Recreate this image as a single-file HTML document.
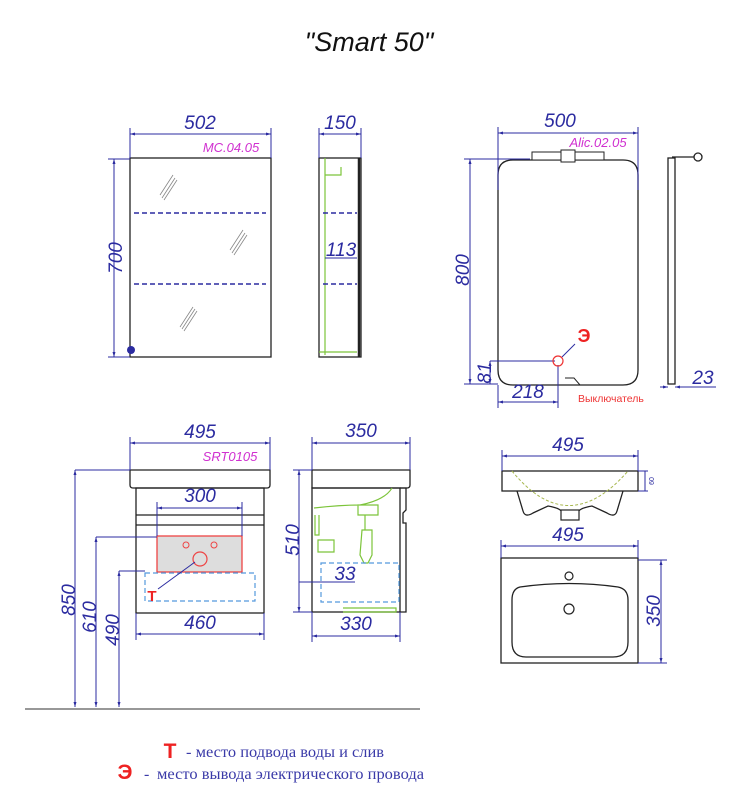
<!DOCTYPE html>
<html><head><meta charset="utf-8"><style>
html,body{margin:0;padding:0;background:#fff;width:747px;height:800px;overflow:hidden}
svg{display:block}
.d{stroke:#2b2ba0;stroke-width:1;fill:none}
.o{stroke:#222;stroke-width:1.3;fill:none}
.t{font-family:"Liberation Sans",sans-serif;font-style:italic;fill:#2b2ba0;font-size:19px}
.m{font-family:"Liberation Sans",sans-serif;font-style:italic;fill:#d030d0;font-size:13px}
.g{stroke:#7cc43a;stroke-width:1.2;fill:none}
</style></head><body>
<svg width="747" height="800" viewBox="0 0 747 800">
<defs>
<marker id="a" viewBox="0 0 10 10" refX="10" refY="5" markerWidth="7" markerHeight="5" orient="auto-start-reverse"><path d="M0,2 L10,5 L0,8z" fill="#2b2ba0"/></marker>
</defs>
<text x="369" y="51" text-anchor="middle" font-family="Liberation Sans, sans-serif" font-style="italic" font-size="27" fill="#111">"Smart 50"</text>

<!-- Mirror cabinet front -->
<rect x="130" y="158" width="141" height="199" class="o"/>
<path class="d" d="M130 128V158M271 128V158"/>
<line x1="130" y1="134" x2="271" y2="134" class="d" marker-start="url(#a)" marker-end="url(#a)"/>
<text x="200" y="129" class="t" text-anchor="middle">502</text>
<text x="231" y="152" class="m" text-anchor="middle">MC.04.05</text>
<path d="M134 213H266M134 284H266" stroke="#2b2ba0" stroke-width="1.6" stroke-dasharray="5,3"/>
<path class="d" d="M108 159H130M108 357H130"/>
<line x1="114" y1="159" x2="114" y2="357" class="d" marker-start="url(#a)" marker-end="url(#a)"/>
<text transform="translate(122,258) rotate(-90)" class="t" text-anchor="middle">700</text>
<circle cx="131" cy="350" r="4" fill="#2b2ba0"/>
<path stroke="#888" stroke-width="0.8" d="M160 195L173 175M162 198L175 178M164 200L177 180M230 250L243 230M232 253L245 233M234 255L247 235M180 327L193 307M182 329L195 309M184 331L197 311"/>

<!-- side -->
<rect x="319" y="158" width="42" height="199" class="o"/>
<line x1="359" y1="158" x2="359" y2="357" stroke="#222" stroke-width="2.5"/>
<path class="g" d="M325 158V355M325 175H341V167M319 352H357"/>
<path class="d" d="M319 128V158M361 128V158"/>
<line x1="319" y1="134" x2="361" y2="134" class="d" marker-start="url(#a)" marker-end="url(#a)"/>
<text x="340" y="129" class="t" text-anchor="middle">150</text>
<path d="M323 213H357M323 284H357" stroke="#2b2ba0" stroke-width="1.6" stroke-dasharray="5,3"/>
<line x1="325" y1="258" x2="357" y2="258" class="d"/>
<text x="341" y="256" class="t" text-anchor="middle">113</text>

<!-- mirror -->
<path class="o" d="M513 160H623Q638 160 638 175V370Q638 385 623 385H513Q498 385 498 370V175Q498 160 513 160Z"/>
<rect x="532" y="152" width="72" height="8" fill="#fff" stroke="#222"/>
<rect x="561" y="150" width="14" height="12" fill="#fff" stroke="#222"/>
<path class="d" d="M498 127V190M638 127V190"/>
<line x1="498" y1="133" x2="638" y2="133" class="d" marker-start="url(#a)" marker-end="url(#a)"/>
<text x="560" y="127" class="t" text-anchor="middle">500</text>
<text x="598" y="147" class="m" text-anchor="middle">Alic.02.05</text>
<path class="d" d="M464 159H530M464 384H498"/>
<line x1="470" y1="159" x2="470" y2="384" class="d" marker-start="url(#a)" marker-end="url(#a)"/>
<text transform="translate(469,270) rotate(-90)" class="t" text-anchor="middle">800</text>
<path class="d" d="M490 361H555M558 365V408M498 385V408"/>
<line x1="490" y1="361" x2="490" y2="384" class="d" marker-start="url(#a)" marker-end="url(#a)"/>
<text transform="translate(491,373) rotate(-90)" class="t" text-anchor="middle" font-size="17">81</text>
<line x1="498" y1="402" x2="558" y2="402" class="d" marker-start="url(#a)" marker-end="url(#a)"/>
<text x="528" y="398" class="t" text-anchor="middle">218</text>
<circle cx="558" cy="361" r="5" fill="none" stroke="#e33" stroke-width="1.2"/>
<line x1="562" y1="357" x2="575" y2="344" class="d"/>
<text x="584" y="342" font-family="Liberation Sans,sans-serif" font-weight="bold" font-size="18" fill="#e22" text-anchor="middle">Э</text>
<path d="M565 378L574 378L580 385" stroke="#222" fill="none"/>
<text x="578" y="402" font-family="Liberation Sans,sans-serif" font-size="10.5" fill="#e33">Выключатель</text>
<rect x="668" y="158" width="7" height="226" class="o"/>
<path class="o" d="M672 157H694"/>
<circle cx="698" cy="157" r="4" fill="#fff" stroke="#222" stroke-width="1.3"/>
<line x1="660" y1="387" x2="668" y2="387" class="d" marker-end="url(#a)"/>
<line x1="690" y1="387" x2="675" y2="387" class="d" marker-end="url(#a)"/>
<line x1="675" y1="387" x2="716" y2="387" class="d"/>
<text x="703" y="384" class="t" text-anchor="middle">23</text>

<!-- vanity front -->
<path class="o" d="M130 470H270V485Q270 488 267 488H133Q130 488 130 485Z"/>
<rect x="136" y="488" width="128" height="125" class="o"/>
<path class="o" d="M136 515H264M136 525H264"/>
<path class="d" d="M130 437V470M270 437V470"/>
<line x1="130" y1="443" x2="270" y2="443" class="d" marker-start="url(#a)" marker-end="url(#a)"/>
<text x="200" y="438" class="t" text-anchor="middle">495</text>
<text x="230" y="461" class="m" text-anchor="middle">SRT0105</text>
<rect x="157" y="536" width="85" height="36" fill="#ddd" stroke="#e44" stroke-width="1.3"/>
<path class="d" d="M157 502V536M242 502V536"/>
<line x1="157" y1="508" x2="242" y2="508" class="d" marker-start="url(#a)" marker-end="url(#a)"/>
<text x="200" y="502" class="t" text-anchor="middle">300</text>
<circle cx="186" cy="545" r="3" fill="none" stroke="#e44"/>
<circle cx="214" cy="545" r="3" fill="none" stroke="#e44"/>
<circle cx="200" cy="559" r="7" fill="none" stroke="#e44" stroke-width="1.2"/>
<rect x="145" y="573" width="110" height="28" fill="none" stroke="#5599dd" stroke-width="1.2" stroke-dasharray="5,3"/>
<line x1="195" y1="562" x2="158" y2="589" class="d"/>
<text x="152" y="601" font-family="Liberation Sans,sans-serif" font-weight="bold" font-size="15" fill="#e22" text-anchor="middle">Т</text>
<path class="d" d="M136 613V640M264 613V640"/>
<line x1="136" y1="634" x2="264" y2="634" class="d" marker-start="url(#a)" marker-end="url(#a)"/>
<text x="200" y="629" class="t" text-anchor="middle">460</text>
<path class="d" d="M75 470H130M96 537H157M119 571H145"/>
<line x1="75" y1="470" x2="75" y2="707" class="d" marker-start="url(#a)" marker-end="url(#a)"/>
<line x1="96" y1="537" x2="96" y2="707" class="d" marker-start="url(#a)" marker-end="url(#a)"/>
<line x1="119" y1="571" x2="119" y2="707" class="d" marker-start="url(#a)" marker-end="url(#a)"/>
<text transform="translate(75,600) rotate(-90)" class="t" text-anchor="middle">850</text>
<text transform="translate(96,617) rotate(-90)" class="t" text-anchor="middle">610</text>
<text transform="translate(119,630) rotate(-90)" class="t" text-anchor="middle">490</text>
<line x1="25" y1="709" x2="420" y2="709" stroke="#777" stroke-width="1.5"/>

<!-- vanity side -->
<path class="o" d="M312 470H410V485Q410 488 407 488H312Z"/>
<rect x="312" y="488" width="88" height="124" class="o"/>
<path class="o" d="M400 488H406V510L403 513V523H406V612H400"/>
<path class="g" d="M314 508Q340 505 360 505Q385 500 392 488M358 505H378V515H358ZM365 515V530M362 530H372V555L368 563H364L360 555Z M315 515V535H319V515 M318 540H334V552H318Z M343 608H396V612H343"/>
<path class="d" d="M312 437V470M410 437V470"/>
<line x1="312" y1="443" x2="410" y2="443" class="d" marker-start="url(#a)" marker-end="url(#a)"/>
<text x="361" y="437" class="t" text-anchor="middle">350</text>
<path class="d" d="M293 470H312M293 612H312"/>
<line x1="299" y1="470" x2="299" y2="612" class="d" marker-start="url(#a)" marker-end="url(#a)"/>
<text transform="translate(299,540) rotate(-90)" class="t" text-anchor="middle">510</text>
<rect x="321" y="563" width="78" height="39" fill="none" stroke="#5599dd" stroke-width="1.2" stroke-dasharray="5,3"/>
<line x1="299" y1="582" x2="355" y2="582" class="d"/>
<text x="345" y="580" class="t" text-anchor="middle">33</text>
<path class="d" d="M312 612V642M400 612V642"/>
<line x1="312" y1="636" x2="400" y2="636" class="d" marker-start="url(#a)" marker-end="url(#a)"/>
<text x="356" y="630" class="t" text-anchor="middle">330</text>

<!-- basin front -->
<rect x="502" y="471" width="136" height="20" class="o"/>
<path class="o" d="M517 491L523 511Q525 518 533 513L548 506Q560 508 562 512H578Q580 508 592 506L607 513Q615 518 617 511L623 491"/>
<rect x="561" y="510" width="18" height="10" fill="#fff" stroke="#222" stroke-width="1.2"/>
<path d="M512 471Q568 540 628 471" stroke="#a8b850" stroke-width="1" stroke-dasharray="3,2" fill="none"/>
<path class="d" d="M502 450V471M638 450V471M638 471H648M638 491H648"/>
<line x1="502" y1="456" x2="638" y2="456" class="d" marker-start="url(#a)" marker-end="url(#a)"/>
<text x="568" y="451" class="t" text-anchor="middle">495</text>
<line x1="645" y1="471" x2="645" y2="491" class="d"/>
<text transform="translate(654,481) rotate(-90)" font-family="Liberation Sans,sans-serif" font-size="7" fill="#2b2ba0" text-anchor="middle">60</text>

<!-- basin plan -->
<rect x="501" y="558" width="137" height="105" class="o"/>
<path class="o" d="M520 587Q569 580 618 587Q628 589 628 600V642Q628 657 613 657H526Q512 657 512 642V600Q512 589 520 587Z"/>
<circle cx="569" cy="576" r="4" fill="none" stroke="#222" stroke-width="1.2"/>
<circle cx="569" cy="609" r="5" fill="none" stroke="#222" stroke-width="1.2"/>
<path class="d" d="M501 540V558M638 540V558M638 560H667M638 663H667"/>
<line x1="501" y1="546" x2="638" y2="546" class="d" marker-start="url(#a)" marker-end="url(#a)"/>
<text x="568" y="541" class="t" text-anchor="middle">495</text>
<line x1="661" y1="560" x2="661" y2="663" class="d" marker-start="url(#a)" marker-end="url(#a)"/>
<text transform="translate(660,611) rotate(-90)" class="t" text-anchor="middle">350</text>

<!-- legend -->
<text x="170" y="758" font-family="Liberation Sans,sans-serif" font-weight="bold" font-size="21" fill="#e22" text-anchor="middle">Т</text>
<text x="186" y="757" font-family="Liberation Serif,serif" font-size="16" fill="#3a3aa8" textLength="198" lengthAdjust="spacingAndGlyphs">- место подвода воды и слив</text>
<text x="125" y="779" font-family="Liberation Sans,sans-serif" font-weight="bold" font-size="21" fill="#e22" text-anchor="middle">Э</text>
<text x="144" y="779" font-family="Liberation Serif,serif" font-size="16" fill="#3a3aa8">-</text>
<text x="157" y="779" font-family="Liberation Serif,serif" font-size="16" fill="#3a3aa8" textLength="267" lengthAdjust="spacingAndGlyphs">место вывода электрического провода</text>
</svg>
</body></html>
